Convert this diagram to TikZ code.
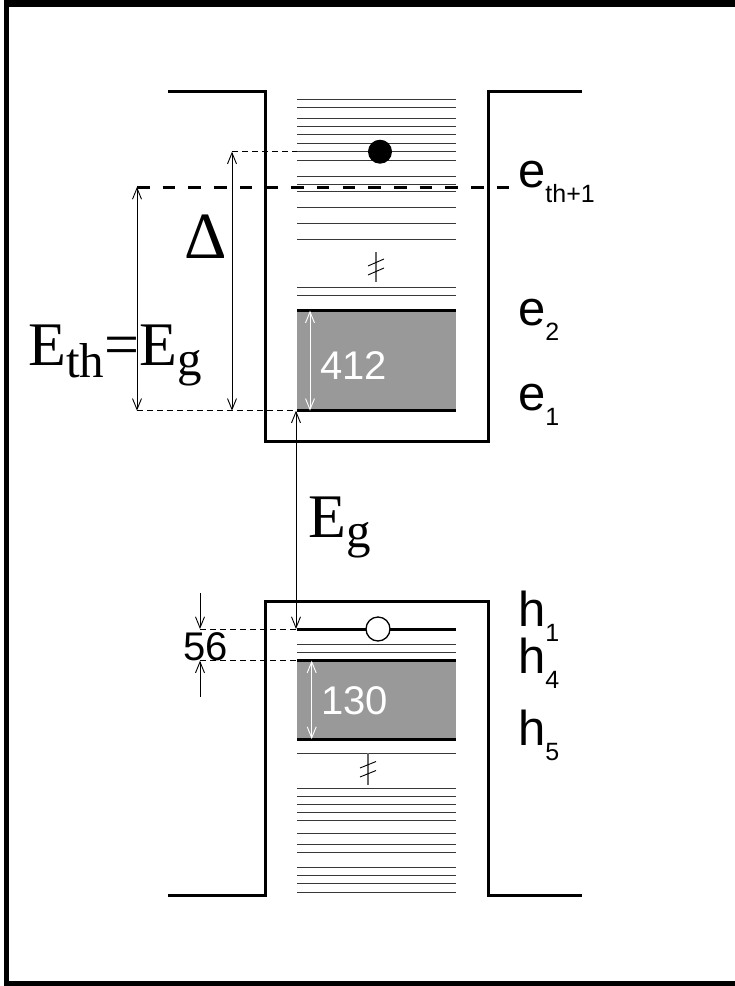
\documentclass[tikz,border=0pt]{standalone}
\usepackage{fontspec}
\setmainfont{Liberation Sans}
\newfontfamily\tmsfont{Liberation Serif}
\usetikzlibrary{arrows.meta}
\definecolor{boxgray}{HTML}{999999}
\tikzset{
  wall/.style={line width=3bp, line join=miter},
  lvl/.style={line width=1bp, black!78},
  thk/.style={line width=3bp},
  barb/.tip={Straight Barb[length=11bp,width=9bp,line width=0.9bp]},
  dim/.style={line width=0.9bp, barb-barb},
  wdim/.style={line width=0.9bp, white, barb-barb},
  guide/.style={dash pattern=on 6bp off 4bp, line width=0.8bp},
  lab/.style={anchor=base west, inner sep=0pt, font=\fontsize{49bp}{49bp}\selectfont},
  num/.style={anchor=base west, inner sep=0pt, font=\fontsize{40bp}{40bp}\selectfont},
  ser/.style={anchor=base west, inner sep=0pt, font=\tmsfont\fontsize{62bp}{62bp}\selectfont},
}
\newcommand{\lsub}[1]{\raisebox{-15bp}{\fontsize{25bp}{25bp}\selectfont #1}}
\newcommand{\ssub}[2]{\raisebox{-#1bp}{\fontsize{49bp}{49bp}\selectfont #2}}
\begin{document}
\begin{tikzpicture}[x=1bp,y=-1bp]
\fill[white] (0,0) rectangle (735,986);
\useasboundingbox (0,0) rectangle (735,986);
% frame
\fill (4,0) rectangle (735,7);
\fill (4,0) rectangle (9,986);
\fill (4,981) rectangle (735,986);
% wells
\draw[wall] (168,91.7) -- (265,91.7) -- (265,441) -- (488,441) -- (488,91.7) -- (582,91.7);
\draw[wall] (168,895) -- (265,895) -- (265,601.7) -- (488,601.7) -- (488,895) -- (582,895);
% gray bands
\fill[boxgray] (297,310.7) rectangle (456,410.7);
\fill[boxgray] (297,660.7) rectangle (456,739);
% upper levels
\foreach \y in {99.3,107.3,118.3,126.3,134,143.7,151.7,160,176,184,191.7,207.7,223.7,239.7,287.7,295.7}
  \draw[lvl] (297,\y) -- (456,\y);
\draw[thk] (297,310.7) -- (456,310.7);
\draw[thk] (297,410.7) -- (456,410.7);
% lower levels
\foreach \y in {644.3,652.3,753.3,788.3,796.3,804.3,812.3,820.3,833.3,844,852,867.7,875.7,883.7,892}
  \draw[lvl] (297,\y) -- (456,\y);
\draw[thk] (297,629) -- (456,629);
\draw[thk] (297,660.7) -- (456,660.7);
\draw[thk] (297,739) -- (456,739);
% break marks
\draw[black!60, line width=1.2bp] (376,252) -- (376,282);
\draw[line width=0.9bp] (368,266) -- (384,259) (368,275) -- (384,268);
\draw[black!60, line width=1.2bp] (368,753) -- (368,785);
\draw[line width=0.9bp] (360,768) -- (376,761.5) (360,777) -- (376,770.5);
% dashed threshold
\draw[line width=3bp, dash pattern=on 12.5bp off 13.2bp] (137,187) -- (512,187);
% particles
\fill (380,151.7) circle (12);
\draw[fill=white, line width=1.3bp] (378,629) circle (12);
% coordinates
\coordinate (dTop) at (232,151.7);
\coordinate (dBot) at (232,410.7);
\coordinate (tTop) at (137,187);
\coordinate (tBot) at (137,410.7);
\coordinate (eOne) at (296,410.7);
\coordinate (hOne) at (296,629);
\coordinate (lvA) at (297,151.7);
\coordinate (lvB) at (297,410.7);
\coordinate (lvC) at (297,629);
\coordinate (lvD) at (297,660.7);
\coordinate (sTop) at (200,593);
\coordinate (sA) at (200,629);
\coordinate (sB) at (200,660.7);
\coordinate (sBot) at (200,697);
\coordinate (wA) at (310,310.7);
\coordinate (wB) at (310,410.7);
\coordinate (wC) at (311.7,660.7);
\coordinate (wD) at (311.7,739);
% guides
\draw[guide] (dTop) -- (lvA);
\draw[guide] (tBot) -- (lvB);
\draw[guide] (sA) -- (lvC);
\draw[guide] (sB) -- (lvD);
% dimension arrows
\draw[dim] (dTop) -- (dBot);
\draw[dim] (tTop) -- (tBot);
\draw[dim] (eOne) -- (hOne);
\draw[line width=0.9bp, -barb] (sTop) -- (sA);
\draw[line width=0.9bp, -barb] (sBot) -- (sB);
\draw[wdim] (wA) -- (wB);
\draw[wdim] (wC) -- (wD);
% numbers
\node[num, white] (n412) at (320,379) {412};
\node[num, white] (n130) at (321,714) {130};
\node[num] (n56) at (183,660) {56};
% serif labels
\node[ser] (delta) at (184,258) {\fontsize{66bp}{66bp}\selectfont Δ};
\node[ser] (eth) at (28,365) {E\ssub{12}{th}=E\ssub{10}{g}};
\node[ser] (eg) at (308,537) {E\ssub{10}{g}};
% sans labels
\node[lab] (le1) at (518,187) {e\lsub{th+1}};
\node[lab] (le2) at (518,325) {e\lsub{2}};
\node[lab] (le3) at (518,410) {e\lsub{1}};
\node[lab] (lh1) at (518,626) {h\lsub{1}};
\node[lab] (lh4) at (518,673) {h\lsub{4}};
\node[lab] (lh5) at (518,745) {h\lsub{5}};
\end{tikzpicture}
\end{document}
